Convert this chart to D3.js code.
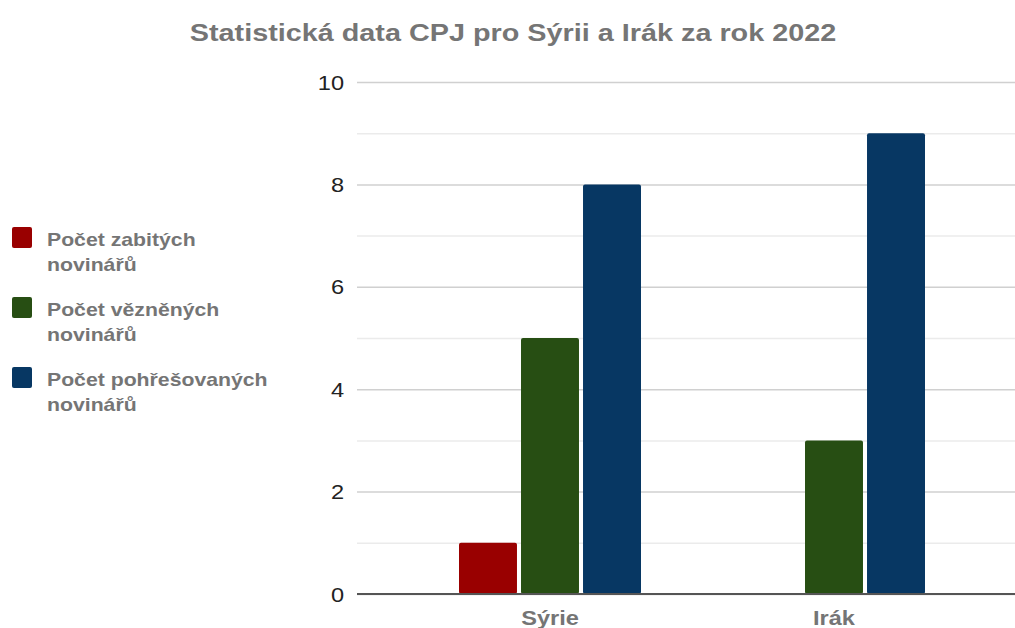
<!DOCTYPE html>
<html><head><meta charset="utf-8">
<script src="https://cdn.jsdelivr.net/npm/d3@7"></script>
<style>body{margin:0;background:#fff}svg{display:block}</style>
</head><body>
<svg id="c" width="1015" height="628"></svg>
<script>
const title = "Statistická data CPJ pro Sýrii a Irák za rok 2022";
const categories = ["Sýrie", "Irák"];
const seriesNames = [["Počet zabitých", "novinářů"], ["Počet vězněných", "novinářů"], ["Počet pohřešovaných", "novinářů"]];
const seriesColors = ["#990000", "#274e13", "#073763"];
const killed = [1, 0];
const imprisoned = [5, 3];
const missing = [8, 9];
const yTicks = [0, 2, 4, 6, 8, 10];
const yMinor = [1, 3, 5, 7, 9];

const values = [killed, imprisoned, missing];
const SX = 1.18; // horizontal text stretch
const svg = d3.select("#c");
const font = "'Liberation Sans', Arial, sans-serif";

const y = d3.scaleLinear().domain([0, 10]).range([594, 82]);
const x0 = d3.scaleBand().domain(categories).range([408, 976]);
const x1 = d3.scaleBand().domain(d3.range(3)).range([x0.bandwidth()/2 - 91, x0.bandwidth()/2 + 91]).paddingInner(0.065);
const gridX = [357, 1015];

function stretchedText(g, x, yy, txt, opts) {
  return g.append("text")
    .attr("transform", `translate(${x},${yy}) scale(${opts.sx || SX},1)`)
    .attr("font-family", font)
    .attr("font-size", opts.size)
    .attr("font-weight", opts.weight || "normal")
    .attr("fill", opts.fill)
    .attr("text-anchor", opts.anchor || "start")
    .text(txt);
}

// minor gridlines
svg.append("g").selectAll("line").data(yMinor).join("line")
  .attr("x1", gridX[0]).attr("x2", gridX[1])
  .attr("y1", d => y(d) + 0.5).attr("y2", d => y(d) + 0.5)
  .attr("stroke", "#ebebeb").attr("stroke-width", 1.5);

// major axis
const yAxis = d3.axisLeft(y).tickValues(yTicks).tickSize(-(gridX[1] - gridX[0])).tickPadding(0);
const ga = svg.append("g").attr("transform", `translate(${gridX[0]},0)`).call(yAxis);
ga.select(".domain").remove();
ga.selectAll(".tick line").attr("stroke", "#d0d0d0").attr("stroke-width", 1.5);
ga.selectAll(".tick text")
  .attr("font-family", font).attr("font-size", 20).attr("fill", "#222")
  .attr("x", -11).attr("dy", "0.35em")
  .attr("transform", `scale(${SX},1)`);

// bars
const groups = svg.append("g").selectAll("g").data(categories).join("g")
  .attr("transform", d => `translate(${x0(d)},0)`);
groups.selectAll("rect")
  .data((c, ci) => values.map((arr, si) => ({si, v: arr[ci]})).filter(d => d.v > 0))
  .join("rect")
  .attr("x", d => x1(d.si)).attr("width", x1.bandwidth())
  .attr("y", d => y(d.v)).attr("height", d => y(0) - y(d.v))
  .attr("rx", 2).attr("fill", d => seriesColors[d.si]);

// baseline
svg.append("line").attr("x1", gridX[0]).attr("x2", gridX[1])
  .attr("y1", y(0)).attr("y2", y(0)).attr("stroke", "#555").attr("stroke-width", 2);

// category labels
categories.forEach(c => {
  stretchedText(svg, x0(c) + x0.bandwidth()/2, 625, c, {size: 20, weight: "bold", fill: "#757575", anchor: "middle"});
});

// title
stretchedText(svg, 513, 41, title, {size: 24, sx: 1.2, weight: "bold", fill: "#757575", anchor: "middle"});

// legend
seriesNames.forEach((lines, i) => {
  const top = 227 + i * 70;
  svg.append("rect").attr("x", 12).attr("y", top).attr("width", 20).attr("height", 21)
    .attr("rx", 2).attr("fill", seriesColors[i]);
  lines.forEach((ln, j) => {
    stretchedText(svg, 47, top + 19 + j * 25, ln, {size: 18, weight: "bold", fill: "#757575"});
  });
});
</script>
</body></html>
